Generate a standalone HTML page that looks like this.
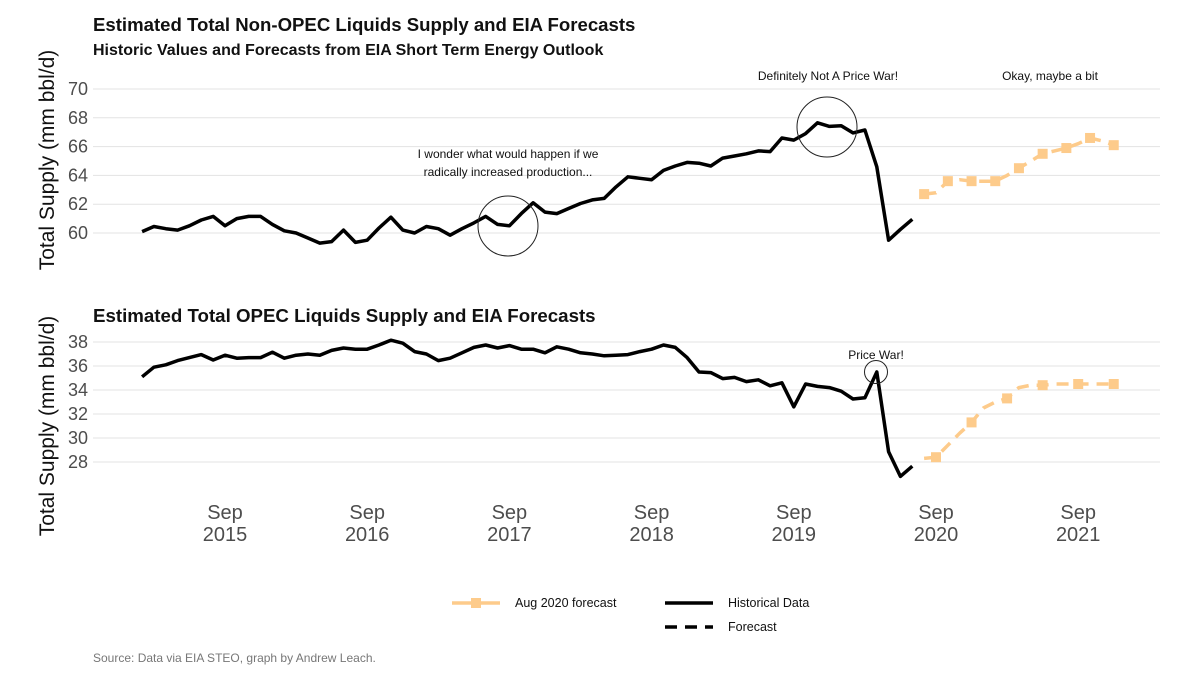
<!DOCTYPE html>
<html><head><meta charset="utf-8"><style>
body{margin:0;background:#fff;font-family:"Liberation Sans",sans-serif}
svg text{font-family:"Liberation Sans",sans-serif}
</style></head><body>
<svg id="c" width="1200" height="675" viewBox="0 0 1200 675" xmlns="http://www.w3.org/2000/svg">
<text x="93" y="31" font-size="18.6" font-weight="bold" fill="#111">Estimated Total Non-OPEC Liquids Supply and EIA Forecasts</text>
<text x="93" y="55" font-size="16" font-weight="bold" fill="#111">Historic Values and Forecasts from EIA Short Term Energy Outlook</text>
<text x="93" y="322" font-size="18.7" font-weight="bold" fill="#111">Estimated Total OPEC Liquids Supply and EIA Forecasts</text>
<text transform="translate(54,160) rotate(-90)" text-anchor="middle" font-size="21" fill="#111">Total Supply (mm bbl/d)</text>
<text transform="translate(54,426) rotate(-90)" text-anchor="middle" font-size="21" fill="#111">Total Supply (mm bbl/d)</text>
<g id="grid"></g>
<g id="marks"></g>
<g font-size="12" fill="#111" text-anchor="middle">
<text x="508" y="158">I wonder what would happen if we</text>
<text x="508" y="176">radically increased production...</text>
<circle cx="508" cy="226" r="30" fill="none" stroke="#222" stroke-width="1"/>
<text x="828" y="80">Definitely Not A Price War!</text>
<circle cx="827" cy="127" r="30" fill="none" stroke="#222" stroke-width="1"/>
<text x="1050" y="80">Okay, maybe a bit</text>
<text x="876" y="359">Price War!</text>
<circle cx="876" cy="372" r="11.5" fill="none" stroke="#222" stroke-width="1"/>
</g>
<g font-size="12.5" fill="#111">
<line x1="452" y1="603" x2="500" y2="603" stroke="#FDCB8B" stroke-width="3.5"/>
<rect x="471" y="598" width="10" height="10" fill="#FDCB8B"/>
<text x="515" y="607">Aug 2020 forecast</text>
<line x1="665" y1="603" x2="713" y2="603" stroke="#000" stroke-width="3.5"/>
<text x="728" y="607">Historical Data</text>
<line x1="665" y1="627" x2="713" y2="627" stroke="#000" stroke-width="3.5" stroke-dasharray="12,8"/>
<text x="728" y="631">Forecast</text>
</g>
<text x="93" y="662" font-size="12" fill="#777">Source: Data via EIA STEO, graph by Andrew Leach.</text>
</svg>
<script>
const topHist=[60.1,60.45,60.3,60.2,60.5,60.9,61.15,60.5,61.0,61.15,61.15,60.6,60.15,60.0,59.65,59.3,59.4,60.2,59.35,59.5,60.35,61.1,60.2,60.0,60.45,60.3,59.85,60.3,60.7,61.15,60.6,60.5,61.35,62.1,61.45,61.35,61.7,62.05,62.3,62.4,63.2,63.9,63.8,63.7,64.35,64.65,64.9,64.85,64.65,65.2,65.35,65.5,65.7,65.65,66.6,66.45,66.9,67.65,67.4,67.45,66.95,67.15,64.6,59.5,60.25,60.95];
const botHist=[35.1,35.9,36.1,36.45,36.7,36.95,36.5,36.9,36.65,36.7,36.7,37.15,36.65,36.9,37.0,36.9,37.3,37.5,37.4,37.4,37.75,38.15,37.9,37.2,37.0,36.45,36.65,37.1,37.55,37.75,37.5,37.7,37.4,37.4,37.1,37.6,37.4,37.1,37.0,36.85,36.9,36.95,37.2,37.4,37.75,37.55,36.7,35.5,35.45,34.95,35.05,34.7,34.85,34.35,34.6,32.6,34.5,34.3,34.2,33.9,33.25,33.35,35.5,28.85,26.8,27.65];
const topFc=[62.7,62.8,63.6,63.7,63.6,63.6,63.6,64.0,64.5,65.0,65.5,65.7,65.9,66.2,66.6,66.4,66.1];
const botFc=[28.3,28.4,29.4,30.4,31.3,32.5,33.0,33.3,34.2,34.4,34.4,34.5,34.5,34.5,34.5,34.5,34.5];
const topTicks=[60,62,64,66,68,70];
const botTicks=[28,30,32,34,36,38];
const xYears=[2015,2016,2017,2018,2019,2020,2021];
const histStart=1, fcStart=67;
const NS='http://www.w3.org/2000/svg';
const xS=m=>225+(m-8)*(142.2/12);
const yTop=v=>233-(v-60)*14.4;
const yBot=v=>462-(v-28)*12;
const grid=document.getElementById('grid'),marks=document.getElementById('marks');
function mk(t,a,p){const e=document.createElementNS(NS,t);for(const k in a)e.setAttribute(k,a[k]);p.appendChild(e);return e;}
function axis(ticks,yf,nm){ticks.forEach(t=>{const y=yf(t);
 const l=mk('line',{x1:93,x2:1160,y1:y,y2:y,stroke:'#e3e3e3','stroke-width':1},grid);
 
 
 const tx=mk('text',{x:88,y:y+6,'text-anchor':'end','font-size':18,fill:'#4d4d4d'},grid);tx.textContent=t;
 
 });}
axis(topTicks,yTop,'top-y');axis(botTicks,yBot,'bottom-y');
xYears.forEach(yr=>{const x=xS((yr-2015)*12+8);
 const a=mk('text',{x:x,y:519,'text-anchor':'middle','font-size':20,fill:'#4d4d4d'},grid);a.textContent='Sep';
 
 
 const b=mk('text',{x:x,y:541,'text-anchor':'middle','font-size':20,fill:'#4d4d4d'},grid);b.textContent=yr;
 
 });
function line(arr,start,yf,attrs,nm){const pts=arr.map((v,i)=>xS(start+i).toFixed(1)+','+yf(v).toFixed(1)).join(' ');
 const p=mk('polyline',Object.assign({points:pts,fill:'none','stroke-linejoin':'round'},attrs),marks);
 
 }
line(topFc,fcStart,yTop,{stroke:'#FDCB8B','stroke-width':3.5,'stroke-dasharray':'12,8'},'top-forecast-line');
line(botFc,fcStart,yBot,{stroke:'#FDCB8B','stroke-width':3.5,'stroke-dasharray':'12,8'},'bottom-forecast-line');
topFc.forEach((v,i)=>{if(i%2)return;const r=mk('rect',{x:xS(fcStart+i)-5,y:yTop(v)-5,width:10,height:10,fill:'#FDCB8B'},marks);
 
 });
botFc.forEach((v,i)=>{if(i%3!==1)return;const r=mk('rect',{x:xS(fcStart+i)-5,y:yBot(v)-5,width:10,height:10,fill:'#FDCB8B'},marks);
 
 });
line(topHist,histStart,yTop,{stroke:'#000','stroke-width':3.5},'top-historical-line');
line(botHist,histStart,yBot,{stroke:'#000','stroke-width':3.5},'bottom-historical-line');
</script>
</body></html>
